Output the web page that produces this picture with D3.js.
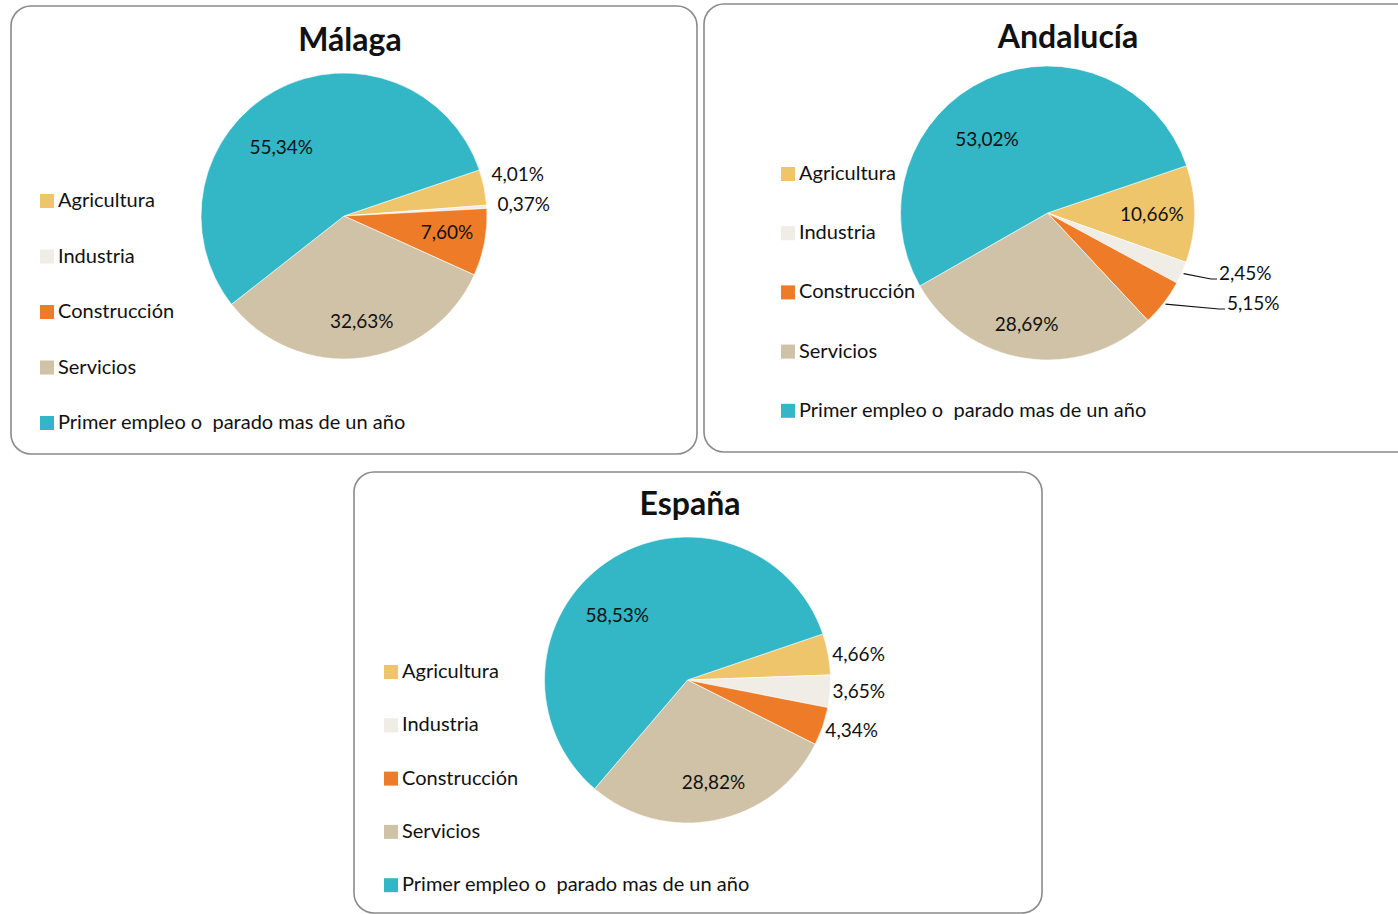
<!DOCTYPE html>
<html><head><meta charset="utf-8">
<script src="https://cdn.jsdelivr.net/npm/d3@7"></script>
<style>
html,body{margin:0;padding:0;background:#fff;}
svg{display:block;}
text{font-family:"Lato","Open Sans",sans-serif;fill:#111;}
</style></head>
<body>
<svg id="c" width="1398" height="914"></svg>
<script>
// ---- data ----
const categories = ["Agricultura","Industria","Construcción","Servicios","Primer empleo o  parado mas de un año"];
const titles = ["Málaga","Andalucía","España"];
const malagaValues = [4.01, 0.37, 7.60, 32.63, 55.34];
const andaluciaValues = [10.66, 2.45, 5.15, 28.69, 53.02];
const espanaValues = [4.66, 3.65, 4.34, 28.82, 58.53];
const colors = ["#EEC56A","#F0ECE6","#EE7B28","#D0C2A6","#33B6C5"];

// ---- layout ----
const panels = [
  {box:[11,6,686,448], title:[350,51], center:[344,216], r:143, legend:[40,200,55.5], values:malagaValues,
   labels:[[-2,1.25,"o"],[0,1.26,"o"],[-1.5,0.73,"i"],[-2.7,0.745,"i"],[-14,0.65,"i"]]},
  {box:[704,4,720,448], title:[1068,48], center:[1047.5,213], r:147, legend:[781,173,59.2], values:andaluciaValues,
   labels:[[0.6,0.71,"i"],[0,0,"l",[169.5,66]],[0,0,"l",[177.5,96]],[2,0.77,"i"],[-15,0.65,"i"]]},
  {box:[354,472,688,441], title:[690,515], center:[687.5,680], r:143, legend:[384,671,53.3], values:espanaValues,
   labels:[[1.8,1.21,"o"],[-0.6,1.2,"o"],[-2,1.2,"o"],[-2.8,0.74,"i"],[-13,0.67,"i"]]}
];
const startDeg = 71.2;

const svg = d3.select("#c");
const pie = d3.pie().sort(null).value(d=>d)
  .startAngle(startDeg*Math.PI/180).endAngle((startDeg+360)*Math.PI/180);
const fmt = v => d3.format(".2f")(v).replace(".",",")+"%";

panels.forEach((p,pi)=>{
  const g = svg.append("g");
  g.append("rect").attr("x",p.box[0]).attr("y",p.box[1]).attr("width",p.box[2]).attr("height",p.box[3])
    .attr("rx",20).attr("ry",20).attr("fill","#fff").attr("stroke","#8a8a8a").attr("stroke-width",1.6);
  g.append("text").attr("x",p.title[0]).attr("y",p.title[1]).attr("text-anchor","middle")
    .attr("font-size",32).attr("font-weight","bold").text(titles[pi]);

  const arcs = pie(p.values);
  const arc = d3.arc().innerRadius(0).outerRadius(p.r);
  const pg = g.append("g").attr("transform",`translate(${p.center})`);
  pg.selectAll("path").data(arcs).join("path")
    .attr("d",arc).attr("fill",(d,i)=>colors[i]).attr("stroke","#fff").attr("stroke-width",0.6);

  arcs.forEach((d,i)=>{
    const L = p.labels[i];
    const mid = (d.startAngle+d.endAngle)/2;
    if(L[2]==="l"){
      const x0 = Math.sin(mid)*(p.r+2), y0 = -Math.cos(mid)*(p.r+2);
      const [ex,ey] = L[3];
      pg.append("path").attr("d",`M${x0},${y0}L${ex-6},${ey}L${ex},${ey}`)
        .attr("fill","none").attr("stroke","#111").attr("stroke-width",1.2);
      pg.append("text").attr("x",ex+2).attr("y",ey+1)
        .attr("font-size",19).text(fmt(d.data));
    } else {
      const a = mid + L[0]*Math.PI/180, rr = L[1]*p.r;
      pg.append("text").attr("x",Math.sin(a)*rr).attr("y",-Math.cos(a)*rr).attr("dy","0.35em")
        .attr("text-anchor","middle").attr("font-size",19).text(fmt(d.data));
    }
  });

  const lg = g.append("g");
  categories.forEach((c,i)=>{
    const y = p.legend[1] + i*p.legend[2];
    lg.append("rect").attr("x",p.legend[0]).attr("y",y-6).attr("width",14).attr("height",14).attr("fill",colors[i]);
    lg.append("text").attr("x",p.legend[0]+18).attr("y",y).attr("dy","0.35em").attr("font-size",20)
      .style("white-space","pre").text(c);
  });
});
</script>
</body></html>
